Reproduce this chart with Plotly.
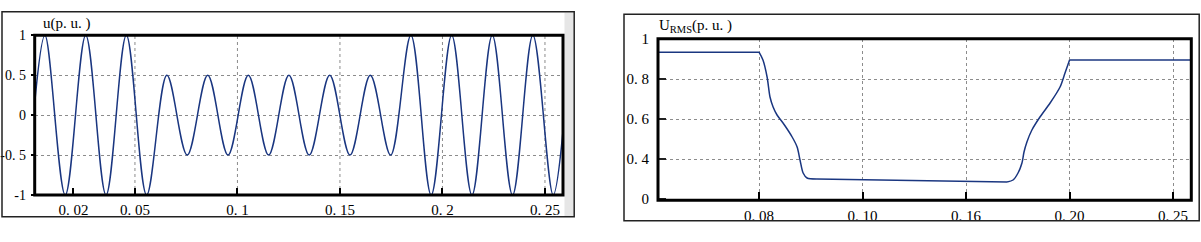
import plotly.graph_objects as go

W, H = 1201, 242

# ---------------- left chart: instantaneous voltage u (p.u.) ----------------
# start point, every peak / trough, end point (time in s, value in p.u.)
wave_t = [0.0011,
          0.0061, 0.0160, 0.0260, 0.0359, 0.0458, 0.0557,
          0.0656, 0.0755, 0.0855, 0.0954, 0.1053, 0.1152,
          0.1251, 0.1350, 0.1450, 0.1549, 0.1648, 0.1747,
          0.1846, 0.1945, 0.2045, 0.2144, 0.2243, 0.2342, 0.2441, 0.2540,
          0.2588]
wave_u = [0.15,
          1, -1, 1, -1, 1, -1,
          0.5, -0.5, 0.5, -0.5, 0.5, -0.5,
          0.5, -0.5, 0.5, -0.5, 0.5, -0.5,
          1, -1, 1, -1, 1, -1, 1, -1,
          -0.2]

left_xtick_vals = [0.02, 0.05, 0.10, 0.15, 0.20, 0.25]
left_xtick_text = ["0. 02", "0. 05", "0. 1", "0. 15", "0. 2", "0. 25"]
left_xgrid = [0.05, 0.10, 0.15, 0.20, 0.25]
left_ytick_vals = [-1, -0.5, 0, 0.5, 1]
left_ytick_text = ["-1", "-0. 5", "0", "0. 5", "1"]

# ---------------- right chart: RMS voltage (p.u.) ----------------
rms_t = [0.0, 0.0500, 0.0519, 0.0539, 0.0553, 0.0568, 0.0587, 0.0616, 0.0660,
         0.0684, 0.0698, 0.0713, 0.0732, 0.0780, 0.1181, 0.1505, 0.1698,
         0.1727, 0.1751, 0.1770, 0.1780, 0.1794, 0.1818, 0.1857, 0.1906,
         0.1954, 0.1978, 0.2000, 0.2600]
rms_u = [0.934, 0.934, 0.895, 0.81, 0.71, 0.66, 0.62, 0.58, 0.51,
         0.46, 0.395, 0.33, 0.305, 0.300, 0.294, 0.290, 0.285,
         0.295, 0.33, 0.38, 0.435, 0.485, 0.545, 0.61, 0.68,
         0.76, 0.83, 0.895, 0.895]
# index ranges of the pieces: (first, last, curved?)
rms_pieces = [(0, 1, False), (1, 13, True), (13, 16, False), (16, 27, True), (27, 28, False)]

right_xtick_vals = [0.05, 0.10, 0.15, 0.20, 0.25]
right_xtick_text = ["0. 08", "0. 10", "0. 16", "0. 20", "0. 25"]
right_ytick_vals = [0.2, 0.4, 0.6, 0.8, 1.0]
right_ytick_text = ["0", "0. 4", "0. 6", "0. 8", "1"]

LINE = "#1a3680"
GRID = "#8c8c8c"
FONT = "Liberation Serif"


def px_x(p):
    return p / W


def px_y(p):
    return 1 - p / H


fig = go.Figure()
fig.add_trace(go.Scatter(x=wave_t, y=wave_u, mode="lines",
                         line=dict(color=LINE, width=1.5, shape="spline", smoothing=1.0),
                         xaxis="x", yaxis="y", showlegend=False, hoverinfo="skip"))
for a, b, curved in rms_pieces:
    fig.add_trace(go.Scatter(x=rms_t[a:b + 1], y=rms_u[a:b + 1], mode="lines",
                             line=dict(color=LINE, width=1.5,
                                       shape="spline" if curved else "linear",
                                       smoothing=0.8),
                             xaxis="x2", yaxis="y2", showlegend=False, hoverinfo="skip"))

tickfont_lx = dict(family=FONT, size=15, color="#000")
tickfont_ly = dict(family=FONT, size=14, color="#000")
tickfont_r = dict(family=FONT, size=15, color="#000")

fig.update_layout(
    width=W, height=H,
    margin=dict(l=0, r=0, t=0, b=0, autoexpand=False),
    paper_bgcolor="white",
    plot_bgcolor="rgba(0,0,0,0)",
    xaxis=dict(domain=[px_x(34.7), px_x(563)], range=[0.0011, 0.2588],
               tickmode="array", tickvals=left_xtick_vals, ticktext=left_xtick_text,
               ticks="inside", ticklen=7, tickwidth=2, tickcolor="black",
               ticklabelstandoff=4, automargin=False,
               showgrid=False, zeroline=False, showline=False,
               tickfont=tickfont_lx, anchor="y"),
    yaxis=dict(domain=[px_y(195), px_y(35.3)], range=[-1, 1],
               tickmode="array", tickvals=left_ytick_vals, ticktext=left_ytick_text,
               ticks="outside", ticklen=3, tickwidth=2, tickcolor="black",
               ticklabelstandoff=2, automargin=False,
               showgrid=True, gridcolor=GRID, griddash="dot", gridwidth=1,
               zeroline=False, showline=False, tickfont=tickfont_ly, anchor="x"),
    xaxis2=dict(domain=[px_x(658), px_x(1191.3)], range=[0.0012, 0.2588],
                tickmode="array", tickvals=right_xtick_vals, ticktext=right_xtick_text,
                ticks="inside", ticklen=8, tickwidth=2, tickcolor="black",
                ticklabelstandoff=5, automargin=False,
                showgrid=True, gridcolor=GRID, griddash="dot", gridwidth=1,
                zeroline=False, showline=False, tickfont=tickfont_r, anchor="y2"),
    yaxis2=dict(domain=[px_y(200.3), px_y(38.7)], range=[0.1935, 1.0015],
                tickmode="array", tickvals=right_ytick_vals, ticktext=right_ytick_text,
                ticks="inside", ticklen=8, tickwidth=1.5, tickcolor="#222",
                ticklabelstandoff=8, automargin=False,
                showgrid=True, gridcolor=GRID, griddash="dot", gridwidth=1,
                zeroline=False, showline=False, tickfont=tickfont_r, anchor="x2"),
)

shapes = []
# vertical grid lines of the left chart
for g in left_xgrid:
    shapes.append(dict(type="line", xref="x", yref="y domain", x0=g, x1=g, y0=0, y1=1,
                       line=dict(color=GRID, width=1, dash="dot"), layer="below"))
# thick plot frames
for xr, yr in (("x domain", "y domain"), ("x2 domain", "y2 domain")):
    shapes.append(dict(type="rect", xref=xr, yref=yr, x0=0, x1=1, y0=0, y1=1,
                       line=dict(color="black", width=3), layer="above"))
# grey strip at right of left panel
shapes.append(dict(type="rect", xref="paper", yref="paper",
                   x0=px_x(564.5), x1=px_x(573.5), y0=px_y(216.5), y1=px_y(12.5),
                   fillcolor="#e6e6e6", line=dict(width=0), layer="below"))
# white mask between panels (cuts the right panel's labels at its frame)
shapes.append(dict(type="rect", xref="paper", yref="paper",
                   x0=px_x(575.5), x1=px_x(623.3), y0=0, y1=1,
                   fillcolor="white", line=dict(width=0), layer="above"))
# outer boxes
shapes.append(dict(type="rect", xref="paper", yref="paper",
                   x0=px_x(2), x1=px_x(574.2), y0=px_y(216.8), y1=px_y(11.8),
                   line=dict(color="#222", width=1.5), layer="above"))
shapes.append(dict(type="rect", xref="paper", yref="paper",
                   x0=px_x(624), x1=px_x(1199.2), y0=px_y(220.8), y1=px_y(14.3),
                   line=dict(color="#222", width=1.5), layer="above"))
fig.update_layout(shapes=shapes)

fig.add_annotation(text="u(p. u. )", xref="paper", yref="paper",
                   x=px_x(41), y=px_y(23), xanchor="left", yanchor="middle",
                   showarrow=False, font=dict(family=FONT, size=15, color="#000"))
fig.add_annotation(text="U<sub>RMS</sub>(p. u. )", xref="paper", yref="paper",
                   x=px_x(657), y=px_y(26), xanchor="left", yanchor="middle",
                   showarrow=False, font=dict(family=FONT, size=15, color="#000"))

fig.write_html("out.html")
